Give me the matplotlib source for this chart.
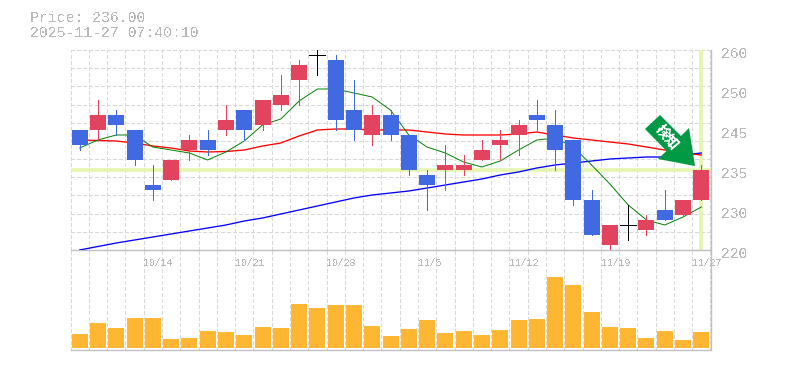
import matplotlib
matplotlib.use("Agg")
import matplotlib.pyplot as plt
import numpy as np
from matplotlib.patches import Polygon
from matplotlib.transforms import Affine2D

plt.rcParams["font.family"] = ["Liberation Mono", "DejaVu Sans Mono"]
plt.rcParams["text.antialiased"] = False
plt.rcParams["lines.scale_dashes"] = False

price_text = "Price: 236.00"
time_text = "2025-11-27 07:40:10"

# one candle per trading day
opens = [244, 244, 247, 244, 233, 234, 240, 242, 244, 248, 245, 249, 254, 259, 258, 248, 243, 247,
         243, 235, 236, 236, 238, 241, 243, 247, 245, 242, 230, 221, 225, 224, 228, 227, 230]
closes = [241, 247, 245, 238, 232, 238, 242, 240, 246, 244, 250, 251, 257, 259, 246, 244, 247, 243,
          236, 233, 237, 237, 240, 242, 245, 246, 240, 230, 223, 225, 225, 226, 226, 230, 236]
highs = [244, 250, 248, 244, 237, 238, 243, 244, 249, 248, 250, 255, 258, 260, 259, 254, 249, 248,
         243, 236, 241, 239, 242, 244, 246, 250, 248, 242, 232, 225, 229, 227, 232, 230, 237]
lows = [240, 242, 243, 237, 230, 234, 238, 239, 243, 242, 244, 248, 249, 255, 244, 242, 241, 242,
        235, 228, 232, 235, 238, 238, 239, 244, 236, 229, 223, 220, 222, 223, 226, 227, 230]

ma_short = [240.4, 242, 243, 243, 240.6, 240, 239.4, 238, 239.6, 241.8, 245, 246.2, 249.8, 252.2,
            252.2, 251.4, 250.6, 248, 243, 240.6, 239.4, 237.6, 236.6, 237.8, 240, 242, 242.4,
            240.6, 237, 233.2, 229, 226, 225, 226.6, 228.6]
ma_mid = [242, 241.9, 241.8, 241.4, 240.8, 240.4, 239.8, 239.6, 239.7, 240, 240.8, 241.4, 242.8,
          244, 244.2, 244.2, 244, 244, 244, 243.6, 243.2, 243, 243, 243, 243.2, 243.6, 243,
          242.4, 242, 241.6, 241.2, 240.6, 240, 239.4, 239]
ma_long = [220, 220.7, 221.4, 222, 222.6, 223.2, 223.8, 224.4, 225, 225.8, 226.4, 227.2, 228, 228.8,
           229.6, 230.4, 231, 231.4, 231.8, 232.4, 233, 233.6, 234.2, 235, 235.6, 236.4, 237,
           237.4, 237.8, 238.2, 238.4, 238.6, 238.6, 239, 239.4]

volumes = [14, 25, 20, 30, 30, 9, 10, 17, 16, 13, 21, 20, 44, 40, 43, 43, 22, 12,
           19, 28, 15, 17, 13, 18, 28, 29, 71, 63, 36, 21, 20, 10, 17, 8, 16]

date_slots = [4, 9, 14, 19, 24, 29, 34]
date_labels = ["10/14", "10/21", "10/28", "11/5", "11/12", "11/19", "11/27"]
price_ticks = [260, 252, 244, 236, 228, 220]
price_labels = ["260", "250", "245", "235", "230", "220"]
last_price = 236

RED = "#e2435f"
BLUE = "#4169e1"
GRID = "#d8d8d8"
FRAME = "#c0c0c0"
TEXT = "#b8b8b8"
HILITE = "#e6f5b0"
DASH = (0, (2.2, 1.5))

W, H = 785, 370
fig = plt.figure(figsize=(W / 100, H / 100), dpi=100)
ax = fig.add_axes([70.5 / W, 1 - 250 / H, 640 / W, 200 / H])
vol = fig.add_axes([70.5 / W, 1 - 350 / H, 640 / W, 100 / H], sharex=ax)
ax.set_zorder(2)
ax.patch.set_visible(False)

x = np.arange(len(closes))
slots = np.arange(len(closes) + 1) - 0.5

for a in (ax, vol):
    a.set_xlim(-0.5, len(closes) - 0.5)
    a.vlines(slots, 0, 1, transform=a.get_xaxis_transform(), color=GRID, lw=0.72,
             linestyles=DASH, zorder=1, antialiased=False)
    a.tick_params(left=False, bottom=False, labelleft=False, labelbottom=False)
    for side in ("top", "left"):
        a.spines[side].set_visible(False)
    for side in ("right", "bottom"):
        a.spines[side].set_color(FRAME)
        a.spines[side].set_linewidth(1.0)

ax.set_ylim(220, 260)
ax.hlines(np.linspace(220, 260, 12), -0.5, len(closes) - 0.5, color=GRID, lw=0.72,
          linestyles=DASH, zorder=1, antialiased=False)

# current price cross
ax.axhline(last_price, color=HILITE, lw=2.6, zorder=2)
ax.axvline(x[-1], color=HILITE, lw=2.8, zorder=2)

ax.plot(x, ma_long, color="#0000ff", lw=0.95, zorder=3)
ax.plot(x, ma_mid, color="#ff0000", lw=0.95, zorder=3)
ax.plot(x, ma_short, color="#008000", lw=0.7, zorder=3)

for i in x:
    o, c = opens[i], closes[i]
    if o == c:
        color = "black"
    elif c > o:
        color = RED
    else:
        color = BLUE
    ax.vlines(i, lows[i], highs[i], color=color, lw=0.6, zorder=4, antialiased=False)
    if o == c:
        ax.hlines(o, i - 0.44, i + 0.44, color=color, lw=0.6, zorder=4, antialiased=False)
    else:
        ax.bar(i, abs(c - o), bottom=min(o, c), width=0.875, color=color, zorder=5, antialiased=False)

vol.set_ylim(-2, 98)
vol.bar(x, volumes, width=0.875, color="#ffb733", zorder=3, antialiased=False)

for p, lab in zip(price_ticks, price_labels):
    ax.annotate(lab, (1, p), xycoords=ax.get_yaxis_transform(), xytext=(10, -4),
                textcoords="offset pixels", ha="left", va="center", color=TEXT, fontsize=10.5)
for s, lab in zip(date_slots, date_labels):
    ax.annotate(lab, (s - 0.5, 0), xycoords=ax.get_xaxis_transform(), xytext=(0, -13),
                textcoords="offset pixels", ha="left", va="center", color=TEXT, fontsize=7.1,
                annotation_clip=False)

fig.text(30 / W, 1 - 18 / H, price_text, color=TEXT, fontsize=10.7, ha="left", va="center")
fig.text(30 / W, 1 - 33 / H, time_text, color=TEXT, fontsize=10.7, ha="left", va="center")

# signal arrow, in picture pixels
px = Affine2D().scale(1 / W, -1 / H).translate(0, 1) + fig.transFigure
arrow_outline = [(660, 115), (645, 129), (666.5, 151), (658, 159), (695, 166), (689, 128), (681, 136)]
fig.add_artist(Polygon(arrow_outline, closed=True, transform=px, color="#009944", lw=0, zorder=10))
fig.text(666.5 / W, 1 - 137 / H, "検知", rotation=-50, rotation_mode="anchor", ha="center", va="center",
         color="white", fontsize=10, fontweight="bold", zorder=11,
         family=["Noto Sans CJK JP", "DejaVu Sans"])

fig.savefig("out.png", dpi=100)
